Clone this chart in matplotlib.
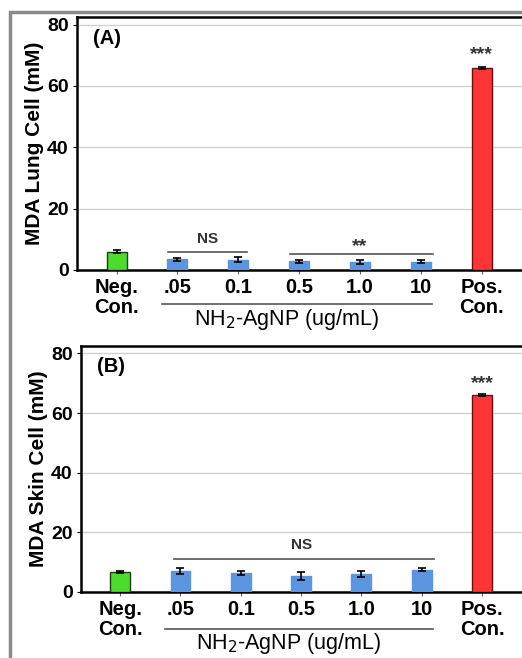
import matplotlib
matplotlib.use("Agg")
import matplotlib.pyplot as plt
from matplotlib.patches import Rectangle
import matplotlib.transforms as mtransforms

plt.rcParams['font.family'] = ['Liberation Sans', 'DejaVu Sans']

categories = ["Neg.\nCon.", ".05", "0.1", "0.5", "1.0", "10", "Pos.\nCon."]
lung_values = [5.9, 3.5, 3.3, 2.9, 2.6, 2.7, 66.0]
lung_errors = [0.5, 0.5, 0.8, 0.5, 0.8, 0.4, 0.3]
skin_values = [6.8, 7.2, 6.3, 5.4, 6.0, 7.5, 66.0]
skin_errors = [0.3, 1.0, 0.7, 1.3, 0.9, 0.5, 0.3]
yticks = [0, 20, 40, 60, 80]
panel_labels = ["(A)", "(B)"]
ylabels = ["MDA Lung Cell (mM)", "MDA Skin Cell (mM)"]

colors = ["#4cdc2c"] + ["#5b95e0"] * 5 + ["#ff3535"]
edges = ["#1f3d10"] + ["#5b95e0"] * 5 + ["#6a1010"]

W, H = 522, 658
fig = plt.figure(figsize=(W / 100, H / 100), dpi=100)

# outer frame
fig.patches.append(Rectangle((10 / W, -0.05), 1.2, (H - 12) / H + 0.05, transform=fig.transFigure,
                             fill=False, edgecolor="#8a8a8a", linewidth=2.5, zorder=0))

axA = fig.add_axes([77 / W, (H - 270) / H, 1.01 - 77 / W, 253 / H])
axB = fig.add_axes([81 / W, (H - 592) / H, 1.01 - 81 / W, 246 / H])

x = list(range(len(categories)))

def draw(ax, vals, errs, label, ylabel, line_y, text_y):
    ax.bar(x, vals, width=0.33, color=colors, edgecolor=edges, linewidth=1.0, zorder=3)
    ax.errorbar(x, vals, yerr=errs, fmt="none", ecolor="black", elinewidth=1.2,
                capsize=3, capthick=1.2, zorder=4)
    ax.set_xlim(-0.65, 6.75)
    ax.set_ylim(0, 82.5)
    ax.set_yticks(yticks)
    ax.set_yticklabels([str(t) for t in yticks], fontsize=14, fontweight="bold")
    ax.set_xticks(x)
    ax.set_xticklabels(categories, fontsize=14.5, fontweight="bold", linespacing=1.05)
    ax.tick_params(axis="x", length=3, pad=3, color="#666666")
    ax.tick_params(axis="y", length=3, pad=3)
    ax.grid(axis="y", color="#d0d0d0", linewidth=1.0, zorder=0)
    ax.set_axisbelow(True)
    for s in ax.spines.values():
        s.set_linewidth(1.8)
        s.set_color("black")
    ax.set_ylabel(ylabel, fontsize=15, fontweight="bold", labelpad=2)
    ax.text(0.035, 0.915, label, transform=ax.transAxes, fontsize=14.5, fontweight="bold",
            va="center", ha="left")
    trans = mtransforms.blended_transform_factory(ax.transData, ax.transAxes)
    ax.plot([0.75, 5.18], [line_y, line_y], transform=trans, color="#555555",
            linewidth=1.2, clip_on=False)
    ax.text(2.8, text_y, r"NH$_2$-AgNP (ug/mL)", transform=trans, fontsize=15.5,
            ha="center", va="center")

draw(axA, lung_values, lung_errors, panel_labels[0], ylabels[0], -0.134, -0.195)
draw(axB, skin_values, skin_errors, panel_labels[1], ylabels[1], -0.15, -0.21)

# significance annotations
axA.plot([0.85, 2.15], [6.0, 6.0], color="#555555", linewidth=1.2, zorder=5)
axA.text(1.5, 10.2, "NS", ha="center", va="center", fontsize=11, fontweight="bold", color="#333333")
axA.plot([2.85, 5.2], [5.2, 5.2], color="#555555", linewidth=1.2, zorder=5)
axA.text(4.0, 7.6, "**", ha="center", va="center", fontsize=14, fontweight="bold", color="#333333")
axA.text(6, 70.3, "***", ha="center", va="center", fontsize=14, fontweight="bold", color="#333333")

axB.plot([0.9, 5.2], [10.9, 10.9], color="#555555", linewidth=1.2, zorder=5)
axB.text(3.0, 15.8, "NS", ha="center", va="center", fontsize=11, fontweight="bold", color="#333333")
axB.text(6, 70.0, "***", ha="center", va="center", fontsize=14, fontweight="bold", color="#333333")

fig.savefig("out.png", dpi=100)
